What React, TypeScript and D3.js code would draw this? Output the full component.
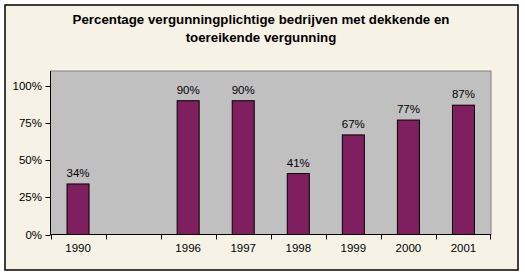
import React from "react";
import * as d3 from "d3";

const categories = ["1990", "", "1996", "1997", "1998", "1999", "2000", "2001"];
const values: (number | null)[] = [0.34, null, 0.9, 0.9, 0.41, 0.67, 0.77, 0.87];
const yTicks = [0, 0.25, 0.5, 0.75, 1];
const titleLines = [
  "Percentage vergunningplichtige bedrijven met dekkende en",
  "toereikende vergunning",
];

export default function App() {
  const W = 525, H = 276;
  const left = 50.5, right = 491, top = 71, bottom = 234.5;
  const x = d3.scaleBand<string>().domain(categories.map((c, i) => String(i))).range([left, right]).paddingInner(0).paddingOuter(0);
  const y = d3.scaleLinear().domain([0, 1.1]).range([bottom, top]);
  const bw = x.bandwidth();
  const barW = bw * 0.4;
  const font = "'Liberation Sans', Arial, sans-serif";
  return (
    <svg width={W} height={H} style={{ position: "absolute", left: 0, top: 0 }}>
      <rect x={5} y={5} width={513} height={265} fill="#F6F2E6" stroke="#000" strokeWidth={1.5} />
      {titleLines.map((t, i) => (
        <text key={i} x={261} y={24 + i * 18} textAnchor="middle" fontFamily={font} fontWeight="bold" fontSize={13.3} fill="#000">{t}</text>
      ))}
      <rect x={left} y={top} width={right - left} height={bottom - top} fill="#C0C0C0" stroke="#808080" strokeWidth={1} />
      {values.map((v, i) =>
        v == null ? null : (
          <g key={i}>
            <rect x={(x(String(i)) as number) + (bw - barW) / 2} y={y(v)} width={barW} height={bottom - y(v)} fill="#7F1F5F" stroke="#000" strokeWidth={1} />
            <text x={(x(String(i)) as number) + bw / 2} y={y(v) - 7} textAnchor="middle" fontFamily={font} fontSize={11.5} fill="#000">{Math.round(v * 100) + "%"}</text>
          </g>
        )
      )}
      <line x1={left} x2={left} y1={top} y2={bottom} stroke="#000" strokeWidth={1} />
      <line x1={left} x2={right} y1={bottom} y2={bottom} stroke="#000" strokeWidth={1} />
      {yTicks.map((t) => (
        <g key={t}>
          <line x1={left - 5} x2={left} y1={Math.round(y(t)) + 0.5} y2={Math.round(y(t)) + 0.5} stroke="#000" />
          <text x={42} y={y(t) + 4} textAnchor="end" fontFamily={font} fontSize={11.5} fill="#000">{Math.round(t * 100) + "%"}</text>
        </g>
      ))}
      {categories.map((c, i) => (
        <g key={i}>
          <line x1={Math.round(x(String(i)) as number) + 0.5} x2={Math.round(x(String(i)) as number) + 0.5} y1={bottom} y2={bottom + 5} stroke="#000" />
          <text x={(x(String(i)) as number) + bw / 2} y={252} textAnchor="middle" fontFamily={font} fontSize={11.5} fill="#000">{c}</text>
        </g>
      ))}
      <line x1={right - 0.5} x2={right - 0.5} y1={bottom} y2={bottom + 5} stroke="#000" />
    </svg>
  );
}
